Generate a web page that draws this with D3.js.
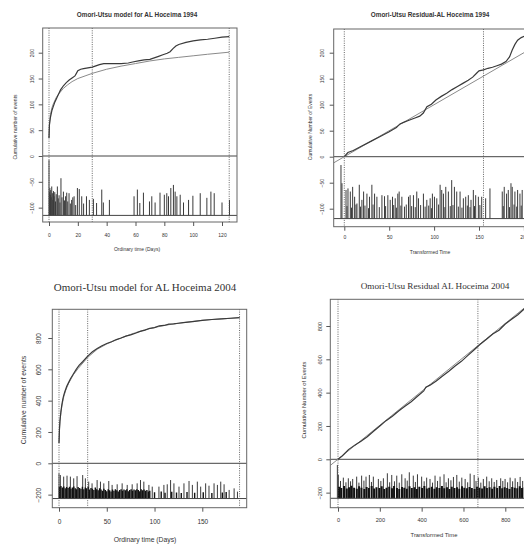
<!DOCTYPE html>
<meta charset="utf-8">
<html>
<head>
<script src="https://d3js.org/d3.v7.min.js"></script>
<style>
  body { margin:0; background:#fff; }
  svg text { font-family: "Liberation Sans", Arial, sans-serif; fill:#333; }
</style>
</head>
<body>
<div id="plotArea"></div>
<script>
// ---------- data ----------
// AL Hoceima 1994, ordinary time
const obs94T = [0, 0.3, 1, 2, 3, 4, 5, 6, 7, 8, 9, 10, 12, 14, 16, 18, 19, 20, 22, 24, 26, 28, 30, 32, 35, 38, 40, 45, 50, 55, 58, 62, 66, 70, 73, 76, 79, 82, 84, 86, 88, 90, 95, 100, 105, 110, 115, 120, 125];
const obs94V = [35, 60, 75, 88, 96, 104, 110, 116, 122, 128, 132, 136, 142, 147, 151, 155, 160, 165, 168, 169, 170, 171, 172, 174, 177, 179, 179, 179, 179, 180, 182, 184, 186, 187, 190, 193, 196, 199, 202, 208, 213, 216, 220, 223, 225, 226, 228, 230, 231];
const fit94T = [0, 0.2, 0.5, 1, 2, 3, 5, 7, 10, 13, 16, 20, 25, 30, 40, 50, 60, 70, 80, 90, 100, 110, 125];
const fit94V = [35, 55, 68, 80, 93, 101, 113, 121, 131, 138, 144, 150, 155, 160, 168, 174, 179, 184, 188, 191, 194, 197, 201];
const mag94 = [[0,-8],[0.3,-70],[0.6,-62],[0.9,-75],[1.2,-66],[1.5,-80],[1.9,-59],[2.3,-72],[2.7,-85],[3.1,-68],[3.5,-78],[4.0,-70],[4.5,-88],[5.0,-74],[5.8,-59],[6.4,-82],[7.0,-76],[7.6,-90],[8.3,-43],[9.0,-80],[10.0,-69],[10.8,-86],[11.5,-78],[12.3,-71],[13.0,-88],[13.9,-72],[14.8,-92],[15.7,-85],[16.5,-80],[17.4,-78],[18.5,-95],[19.7,-62],[21,-64],[22.7,-78],[24,-92],[26,-78],[28,-85],[30.8,-83],[33,-91],[36.6,-65],[37.7,-90],[41.9,-85],[59,-78],[61.3,-65],[63,-91],[65.5,-71],[69.7,-88],[71.3,-78],[73.6,-90],[77,-71],[80,-75],[81.7,-72],[82.9,-78],[84.5,-62],[86.3,-56],[87.5,-69],[88.7,-78],[91,-75],[93.3,-90],[96.8,-85],[99.8,-77],[104.9,-72],[109.5,-81],[112.3,-69],[114.6,-72],[120,-90],[125.2,-85]];

// AL Hoceima 1994, transformed time
const obs94rT = [0, 4, 10, 20, 30, 40, 50, 58, 62, 66, 72, 78, 84, 88, 92, 97, 102, 108, 114, 120, 126, 132, 138, 143, 147, 150, 155, 160, 165, 170, 175, 180, 184, 187, 190, 193, 197, 202, 210];
const obs94rV = [0, 8, 12, 21, 30, 39, 48, 56, 63, 66, 70, 74, 78, 84, 96, 101, 109, 116, 122, 129, 135, 141, 147, 153, 160, 165, 167, 170, 172, 175, 178, 183, 192, 205, 216, 224, 229, 233, 238];
const fit94rT = [-12, 215];
const fit94rV = [-12, 215];
const mag94r = [[-3.7,-16],[-2.6,-51],[1.9,-64],[4.1,-61],[6.7,-67],[9.3,-58],[11.5,-77],[14.1,-90],[16.7,-54],[19.6,-83],[21.5,-67],[25.2,-71],[28.1,-77],[30.7,-54],[33.7,-71],[36.3,-77],[41.9,-74],[44.8,-76],[48.5,-74],[51.1,-83],[53.7,-77],[56.7,-80],[59.6,-71],[61.1,-67],[64.1,-77],[71.5,-77],[73.3,-74],[77,-74],[80.7,-67],[82.6,-80],[88.1,-71],[91.9,-83],[95.6,-80],[98.1,-71],[100.4,-77],[103,-80],[106.7,-54],[108.5,-64],[110.4,-71],[113,-58],[115.9,-67],[119.6,-45],[122.6,-58],[125.2,-67],[128.9,-67],[132.6,-80],[135.2,-77],[138.1,-74],[141.1,-83],[143.7,-64],[146.3,-74],[149.3,-77],[153,-77],[157.4,-80],[162.2,-61],[175.9,-67],[178.1,-58],[180.7,-71],[182.6,-64],[185.6,-51],[187,-58],[190,-67],[193,-64],[195.6,-71],[198.1,-64],
  [3,-95],[8,-98],[13,-92],[18,-96],[23,-94],[27,-99],[32,-92],[39,-97],[46,-95],[55,-93],[58,-98],[63,-94],[67,-96],[69,-92],[75,-95],[79,-97],[85,-93],[90,-96],[94,-94],[97,-99],[105,-92],[112,-97],[118,-95],[121,-93],[127,-96],[131,-98],[137,-94],[140,-97],[145,-95],[151,-93],[177,-95],[184,-97],[189,-92],[192,-96],[197,-94]];

// AL Hoceima 2004, ordinary time
const obs04T = [0, 0.5, 1, 2, 3, 4, 5, 6, 8, 10, 12, 15, 18, 21, 25, 30, 35, 40, 45, 50, 55, 60, 65, 70, 75, 80, 85, 90, 95, 100, 105, 110, 115, 120, 125, 130, 140, 150, 160, 170, 180, 189];
const obs04V = [130, 220, 270, 330, 375, 410, 435, 455, 490, 515, 540, 570, 600, 625, 650, 684, 712, 733, 750, 765, 776, 790, 800, 812, 820, 830, 842, 850, 862, 866, 878, 880, 888, 890, 894, 898, 905, 912, 918, 922, 926, 930];
const fit04T = [0, 0.5, 1, 2, 3, 5, 7, 10, 15, 20, 30, 40, 50, 60, 70, 80, 90, 100, 110, 120, 130, 140, 150, 160, 170, 180, 189];
const fit04V = [130, 215, 265, 325, 365, 425, 465, 510, 565, 605, 676, 728, 762, 788, 812, 834, 852, 867, 880, 890, 898, 906, 913, 918, 922, 926, 930];
const mag04 = [[0,-64],[1.4,-75],[4.9,-85],[8.4,-79],[11.9,-85],[15.4,-96],[18.9,-82],[24.8,-75],[27.6,-96],[31.1,-117],[34.6,-128],[39.9,-107],[43.4,-117],[46.9,-128],[52.1,-113],[55.6,-138],[60.9,-134],[66.1,-128],[71.4,-138],[76.6,-134],[81.8,-128],[85.3,-107],[88.8,-117],[94.1,-138],[97.6,-149],[104.6,-149],[109.8,-138],[113.3,-134],[116.8,-107],[120.3,-128],[125.6,-149],[130.8,-128],[136.1,-113],[139.6,-138],[144.8,-117],[148.3,-149],[153.5,-128],[157,-143],[162.3,-128],[165.8,-138],[169.3,-117],[172.8,-134],[178.1,-170],[183.3,-160],[186.8,-181]];
const mag04Low = [[0.5,-150],[2,-145],[3.5,-155],[5,-148],[6.5,-160],[8,-152],[9.5,-158],[11,-150],[12.5,-162],[14,-155],[15.5,-148],[17,-160],[18.5,-165],[20,-152],[21.5,-158],[23,-162],[24.5,-150],[26,-166],[27.5,-155],[29,-160],[30.5,-150],[32,-168],[33.5,-158],[35,-163],[36.5,-170],[38,-155],[39.5,-165],[41,-172],[42.5,-160],[44,-168],[45.5,-175],[47,-162],[48.5,-170],[50,-178],[51.5,-165],[53,-172],[54.5,-180],[56,-168],[57.5,-175],[59,-165],[60.5,-172],[62,-180],[63.5,-170],[65,-166],[66.5,-175],[68,-168],[69.5,-172],[71,-165],[72.5,-178],[74,-170],[75.5,-165],[77,-175],[78.5,-168],[80,-172],[81.5,-165],[83,-170],[84.5,-178],[86,-166],[87.5,-172],[89,-168],[90.5,-175],[92,-170],[93.5,-180],[95,-175],[100,-185],[107,-180],[111,-188],[118,-182],[123,-186],[128,-190],[134,-184],[142,-188],[151,-185],[160,-190],[171,-186],[175,-183]];

// AL Hoceima 2004, transformed time
const obs04rT = [0, 20, 50, 80, 110, 140, 170, 200, 230, 260, 290, 320, 350, 380, 410, 420, 440, 470, 500, 530, 560, 590, 620, 650, 680, 710, 740, 770, 800, 830, 860, 890, 920];
const obs04rV = [0, 20, 58, 85, 108, 135, 168, 200, 232, 258, 290, 318, 345, 378, 410, 432, 445, 470, 500, 528, 560, 588, 622, 656, 690, 720, 752, 775, 812, 840, 868, 902, 935];
const fit04rT = [-37, 930];
const fit04rV = [-37, 948];
const mag04r = [[-3,-34],[1.6,-94],[25.5,-110],[49.4,-114],[70.2,-118],[89.3,-104],[113,-98],[134,-104],[150,-94],[169,-104],[193,-118],[217,-114],[236,-84],[257,-94],[281,-98],[305,-90],[321,-114],[341,-78],[360,-98],[380,-90],[400,-104],[424,-110],[440,-118],[464,-98],[488,-104],[507,-90],[528,-114],[552,-106],[568,-94],[592,-110],[608,-118],[632,-86],[651,-94],[671,-110],[695,-118],[711,-104],[735,-114],[759,-124],[778,-114],[799,-118],[823,-110],[847,-114],[871,-106],
  [12,-130],[38,-138],[60,-132],[100,-140],[124,-128],[160,-136],[205,-130],[247,-138],[270,-132],[293,-140],[331,-128],[370,-136],[412,-132],[452,-140],[476,-130],[517,-138],[540,-126],[580,-134],[620,-138],[660,-130],[683,-140],[723,-132],[747,-136],[788,-130],[811,-138],[835,-132],[859,-136],[883,-130]];
const mag04rLow = [[5,-165],[16,-172],[29,-160],[42,-175],[53,-168],[64,-158],[77,-170],[90,-176],[101,-162],[112,-170],[126,-178],[137,-166],[148,-172],[161,-160],[173,-175],[184,-168],[198,-172],[209,-162],[221,-178],[232,-170],[245,-165],[258,-174],[268,-160],[282,-172],[293,-178],[306,-166],[317,-170],[329,-176],[342,-162],[353,-172],[366,-168],[377,-178],[389,-165],[402,-172],[413,-160],[425,-175],[436,-170],[449,-164],[461,-176],[472,-168],[485,-172],[497,-160],[508,-174],[521,-168],[533,-178],[544,-165],[557,-172],[569,-168],[580,-176],[593,-162],[604,-170],[617,-174],[629,-166],[640,-172],[653,-178],[665,-164],[676,-170],[689,-175],[701,-162],[712,-172],[725,-168],[737,-176],[748,-165],[761,-172],[773,-160],[785,-174],[797,-168],[809,-172],[820,-178],[833,-166],[845,-170],[857,-174],[869,-162],[880,-172],[893,-168]];

// ---------- drawing ----------
const svg = d3.select("#plotArea").append("svg")
  .attr("width", 524).attr("height", 547);

function drawPanel(p) {
  const x = d3.scaleLinear().domain(p.xRef).range(p.xPx);
  const y = d3.scaleLinear().domain(p.yRef).range(p.yPx);
  const [bl, bt, br, bb] = p.box;
  const g = svg.append("g");

  svg.append("clipPath").attr("id", "clip" + p.id)
    .append("rect").attr("x", bl).attr("y", bt).attr("width", br - bl).attr("height", bb - bt);
  const inner = g.append("g").attr("clip-path", `url(#clip${p.id})`);

  // magnitude stems from the bottom line
  const stems = function(data, w, col) {
    inner.append("g").selectAll("line").data(data).enter().append("line")
      .attr("x1", d => x(d[0])).attr("x2", d => x(d[0]))
      .attr("y1", y(p.base)).attr("y2", d => y(d[1]))
      .attr("stroke", col).attr("stroke-width", w);
  };
  stems(p.bars, p.barW, "#3a3a3a");
  if (p.low) stems(p.low, p.lowW, "#111");

  // zero line and bottom line
  [0, p.base].forEach(v => {
    inner.append("line").attr("x1", bl).attr("x2", br).attr("y1", y(v)).attr("y2", y(v))
      .attr("stroke", "#444").attr("stroke-width", 1);
  });

  // dotted vertical markers
  inner.selectAll(".vl").data(p.vlines).enter().append("line")
    .attr("x1", d => x(d)).attr("x2", d => x(d)).attr("y1", bt).attr("y2", bb)
    .attr("stroke", "#555").attr("stroke-width", 0.9).attr("stroke-dasharray", "1,1.3");

  const line = d3.line().x(d => x(d[0])).y(d => y(d[1]));
  inner.append("path").datum(d3.zip(p.fitT, p.fitV)).attr("d", line)
    .attr("fill", "none").attr("stroke", "#8a8a8a").attr("stroke-width", 1);
  inner.append("path").datum(d3.zip(p.obsT, p.obsV)).attr("d", line)
    .attr("fill", "none").attr("stroke", "#3a3a3a").attr("stroke-width", 1.2);

  // box
  g.append("rect").attr("x", bl).attr("y", bt).attr("width", br - bl).attr("height", bb - bt)
    .attr("fill", "none").attr("stroke", "#666").attr("stroke-width", 1);

  // axes
  const xAxis = g.append("g").attr("transform", `translate(0,${bb})`)
    .call(d3.axisBottom(x).tickValues(p.xTicks).tickSize(p.tick).tickFormat(d3.format("d")));
  xAxis.select(".domain").remove();
  xAxis.selectAll("line").attr("stroke", "#555");
  xAxis.selectAll("text").attr("y", p.xLabOff).attr("dy", 0)
    .style("font-size", p.tickFont + "px").attr("fill", "#333");

  const yAxis = g.append("g").attr("transform", `translate(${bl},0)`)
    .call(d3.axisLeft(y).tickValues(p.yTicks).tickSize(p.tick).tickFormat(d3.format("d")));
  yAxis.select(".domain").remove();
  yAxis.selectAll("line").attr("stroke", "#555");
  yAxis.selectAll("text").attr("transform", "rotate(-90)").attr("x", 0).attr("y", -p.yLabOff)
    .attr("dy", 0).attr("text-anchor", "middle")
    .style("font-size", p.tickFont + "px").attr("fill", "#333");

  // titles
  svg.append("text").attr("x", p.title[1]).attr("y", p.title[2]).attr("text-anchor", "middle")
    .style("font-size", p.titleFont + "px")
    .style("font-family", p.serif ? "'Liberation Serif', 'Times New Roman', serif" : null)
    .style("font-weight", p.serif ? "normal" : "bold")
    .attr("fill", "#222").text(p.title[0]);
  svg.append("text").attr("x", p.xlab[1]).attr("y", p.xlab[2]).attr("text-anchor", "middle")
    .style("font-size", p.labFont + "px").text(p.xlab[0]);
  svg.append("text").attr("transform", `translate(${p.ylab[1]},${p.ylab[2]}) rotate(-90)`)
    .attr("text-anchor", "middle").style("font-size", p.labFont + "px").text(p.ylab[0]);
}

drawPanel({
  id: 1, xRef: [0, 120], xPx: [49, 222], yRef: [0, 200], yPx: [156, 52.7],
  box: [42.7, 28, 237, 222], base: -115, vlines: [0, 30, 125],
  xTicks: [0, 20, 40, 60, 80, 100, 120], yTicks: [-100, -50, 0, 50, 100, 150, 200],
  obsT: obs94T, obsV: obs94V, fitT: fit94T, fitV: fit94V, bars: mag94, barW: 1,
  tick: 4, xLabOff: 14.5, yLabOff: 9.2, tickFont: 5, labFont: 5,
  title: ["Omori-Utsu model for AL Hoceima 1994", 137, 17], titleFont: 6.4,
  xlab: ["Ordinary time (Days)", 137, 251], ylab: ["Cumulative number of events", 16.5, 127]
});

drawPanel({
  id: 2, xRef: [0, 150], xPx: [344.3, 479], yRef: [0, 200], yPx: [156.7, 52.7],
  box: [333.7, 29, 545, 226.7], base: -119, vlines: [0, 155],
  xTicks: [0, 50, 100, 150, 200], yTicks: [-100, -50, 0, 50, 100, 150, 200],
  obsT: obs94rT, obsV: obs94rV, fitT: fit94rT, fitV: fit94rV, bars: mag94r, barW: 1,
  tick: 4, xLabOff: 12.8, yLabOff: 9.9, tickFont: 5, labFont: 5,
  title: ["Omori-Utsu Residual-AL Hoceima 1994", 430, 17], titleFont: 6.4,
  xlab: ["Transformed Time", 430, 254], ylab: ["Cumulative Number of Events", 312, 127]
});

drawPanel({
  id: 3, xRef: [0, 150], xPx: [59, 202.3], yRef: [0, 800], yPx: [463.3, 338],
  box: [52.3, 309.3, 246.7, 507.7], base: -225, vlines: [0, 30, 189],
  xTicks: [0, 50, 100, 150], yTicks: [-200, 0, 200, 400, 600, 800],
  obsT: obs04T, obsV: obs04V, fitT: fit04T, fitV: fit04V, bars: mag04, barW: 1,
  low: mag04Low, lowW: 1.4,
  tick: 4, xLabOff: 16.3, yLabOff: 11.7, tickFont: 6.5, labFont: 6.8,
  title: ["Omori-Utsu model for AL Hoceima 2004", 145, 291], titleFont: 11, serif: true,
  xlab: ["Ordinary time (Days)", 145, 541.5], ylab: ["Cumulative number of events", 25.5, 400]
});

drawPanel({
  id: 4, xRef: [0, 800], xPx: [338, 505.3], yRef: [0, 800], yPx: [459.3, 326],
  box: [330.3, 299.3, 545, 507.7], base: -234, vlines: [0, 669],
  xTicks: [0, 200, 400, 600, 800], yTicks: [-200, 0, 200, 400, 600, 800],
  obsT: obs04rT, obsV: obs04rV, fitT: fit04rT, fitV: fit04rV, bars: mag04r, barW: 1,
  low: mag04rLow, lowW: 2,
  tick: 4, xLabOff: 14.3, yLabOff: 8, tickFont: 5.6, labFont: 5.8,
  title: ["Omori-Utsu Residual AL Hoceima 2004", 435, 288.5], titleFont: 9.2, serif: true,
  xlab: ["Transformed Time", 434, 537], ylab: ["Cumulative Number of Events", 305.5, 400]
});
</script>
</body>
</html>
